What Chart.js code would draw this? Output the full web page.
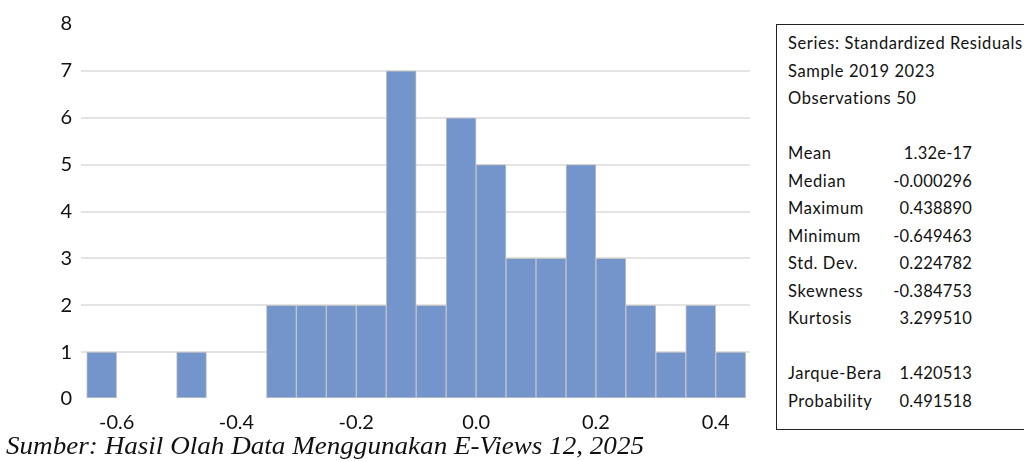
<!DOCTYPE html>
<html>
<head>
<meta charset="utf-8">
<script src="https://cdn.jsdelivr.net/npm/chart.js@4.4.1/dist/chart.umd.min.js"></script>
<style>
  html, body { margin: 0; padding: 0; background: #fff; overflow: hidden; }
  body { width: 1024px; height: 461px; position: relative; }
  #wrap { position: absolute; left: 0; top: 0; width: 760px; height: 440px; }
  #stats {
    position: absolute; left: 776px; top: 24px; width: 300px; height: 406px;
    border: 1.5px solid #222; box-sizing: border-box;
    font-family: Lato, "Open Sans", sans-serif; font-size: 16.5px; color: #111;
    letter-spacing: 0.6px; padding: 5px 0 0 11px; line-height: 27.5px;
  }
  #stats .row { position: relative; height: 27.5px; white-space: nowrap; }
  #stats .val { position: absolute; left: 0; width: 184px; text-align: right; letter-spacing: 0.2px; }
  #caption {
    position: absolute; left: 6px; top: 431px; white-space: nowrap;
    font-family: "Liberation Serif", serif; font-style: italic; font-size: 26px;
    line-height: 30px; color: #111; transform-origin: left center;
  }
</style>
</head>
<body>
<div id="wrap"><canvas id="histChart"></canvas></div>
<div id="stats"></div>
<div id="caption">Sumber: Hasil Olah Data Menggunakan E-Views 12, 2025</div>
<script>
// histogram bins (centre of each 0.05 wide bin) and counts
const binCenters = [-0.625, -0.575, -0.525, -0.475, -0.425, -0.375, -0.325, -0.275, -0.225, -0.175, -0.125,
                    -0.075, -0.025, 0.025, 0.075, 0.125, 0.175, 0.225, 0.275, 0.325, 0.375, 0.425];
const counts = [1, 0, 0, 1, 0, 0, 2, 2, 2, 2, 7, 2, 6, 5, 3, 3, 5, 3, 2, 1, 2, 1];
const xTicks = [-0.6, -0.4, -0.2, 0.0, 0.2, 0.4];
const yTicks = [0, 1, 2, 3, 4, 5, 6, 7, 8];

const statHeader = ['Series: Standardized Residuals', 'Sample 2019 2023', 'Observations 50'];
const statNames = ['Mean', 'Median', 'Maximum', 'Minimum', 'Std. Dev.', 'Skewness', 'Kurtosis'];
const statValues = ['1.32e-17', '-0.000296', '0.438890', '-0.649463', '0.224782', '-0.384753', '3.299510'];
const testNames = ['Jarque-Bera', 'Probability'];
const testValues = ['1.420513', '0.491518'];

// stats panel
const stats = document.getElementById('stats');
function addRow(label, value) {
    const row = document.createElement('div');
    row.className = 'row';
    row.textContent = label;
    if (value !== undefined) {
        const v = document.createElement('span');
        v.className = 'val';
        v.textContent = value;
        row.appendChild(v);
    }
    stats.appendChild(row);
}
statHeader.forEach(h => addRow(h));
addRow('');
statNames.forEach((n, i) => addRow(n, statValues[i]));
addRow('');
testNames.forEach((n, i) => addRow(n, testValues[i]));

// stretch caption to its width in the reference
const cap = document.getElementById('caption');
cap.style.transform = 'scaleX(' + (638 / cap.getBoundingClientRect().width) + ')';

const ctx = document.getElementById('histChart').getContext('2d');

let histChart = new Chart(ctx, {
    type: 'bar',
    data: {
        datasets: [{
            data: binCenters.map((c, i) => ({ x: c, y: counts[i] })),
            backgroundColor: counts.map(c => c > 0 ? '#7395cc' : 'rgba(0,0,0,0)'),
            borderColor: '#c4c4c4',
            borderWidth: counts.map(c => c > 0 ? 1 : 0),
            borderSkipped: false,
            barPercentage: 1,
            categoryPercentage: 1
        }]
    },
    options: {
        responsive: true,
        maintainAspectRatio: false,
        animation: false,
        layout: { padding: { top: 24, right: 10, left: 0, bottom: 0 } },
        plugins: { legend: { display: false }, tooltip: { enabled: false } },
        scales: {
            x: {
                type: 'linear',
                offset: false,
                min: -0.6595,
                max: 0.4572,
                grid: { display: false },
                border: { display: false },
                afterBuildTicks: axis => { axis.ticks = xTicks.map(v => ({ value: v })); },
                afterFit: axis => { axis.height = 41; },
                ticks: {
                    padding: 4,
                    maxRotation: 0,
                    autoSkip: false,
                    color: '#111',
                    font: { family: 'Lato', size: 20 },
                    callback: v => v.toFixed(1)
                }
            },
            y: {
                min: 0,
                max: 8,
                afterBuildTicks: axis => { axis.ticks = yTicks.map(v => ({ value: v })); },
                afterFit: axis => { axis.width = 81; },
                grid: {
                    drawTicks: false,
                    lineWidth: 2,
                    color: c => (c.tick && c.tick.value > 0 && c.tick.value < 8) ? '#e4e4e4' : 'rgba(0,0,0,0)'
                },
                border: { display: false },
                ticks: {
                    padding: 9,
                    color: '#111',
                    font: { family: 'Lato', size: 20 }
                }
            }
        }
    }
});
</script>
</body>
</html>
